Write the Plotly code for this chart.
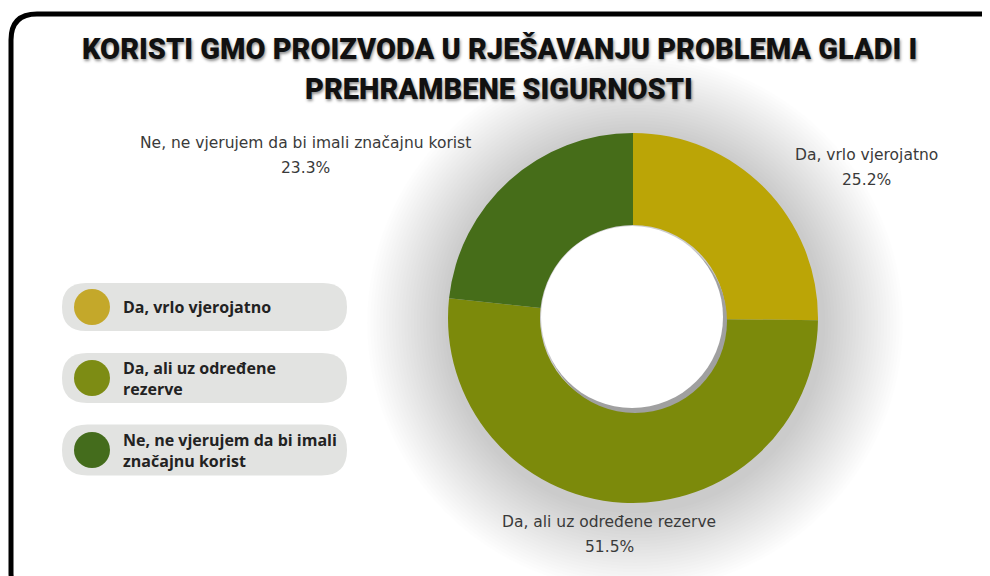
import plotly.graph_objects as go

W, H = 990, 576
OFF = 8  # page body margin

# ── Data ─────────────────────────────────────────────────────────────────────
labels = [
    "Da, vrlo vjerojatno",
    "Da, ali uz određene rezerve",
    "Ne, ne vjerujem da bi imali značajnu korist",
]
legend_labels = [
    "Da, vrlo vjerojatno",
    "Da, ali uz određene<br>rezerve",
    "Ne, ne vjerujem da bi imali<br>značajnu korist",
]
shares = [25.2, 51.5, 23.3]
colors = ["#BBA506", "#7C8A0B", "#466D19"]
legend_colors = ["#C4A82A", "#7D8C14", "#446C1C"]
title_lines = ["KORISTI GMO PROIZVODA U RJEŠAVANJU PROBLEMA GLADI I", "PREHRAMBENE SIGURNOSTI"]


# pixel -> paper helpers
def X(x):
    return (x - OFF) / W


def Y(y):
    return 1 - (y - OFF) / H


def circle(cx, cy, r, **kw):
    return dict(type="circle", xref="paper", yref="paper",
                x0=X(cx - r), x1=X(cx + r), y0=Y(cy + r), y1=Y(cy - r), **kw)


def rounded_rect(x0, y0, x1, y1, r):
    p = [
        (x0 + r, y0), (x1 - r, y0), (x1, y0), (x1, y0 + r),
        (x1, y1 - r), (x1, y1), (x1 - r, y1), (x0 + r, y1),
        (x0, y1), (x0, y1 - r), (x0, y0 + r), (x0, y0), (x0 + r, y0),
    ]
    q = [(X(a), Y(b)) for a, b in p]
    return (f"M{q[0][0]},{q[0][1]} L{q[1][0]},{q[1][1]} Q{q[2][0]},{q[2][1]} {q[3][0]},{q[3][1]} "
            f"L{q[4][0]},{q[4][1]} Q{q[5][0]},{q[5][1]} {q[6][0]},{q[6][1]} L{q[7][0]},{q[7][1]} "
            f"Q{q[8][0]},{q[8][1]} {q[9][0]},{q[9][1]} L{q[10][0]},{q[10][1]} "
            f"Q{q[11][0]},{q[11][1]} {q[12][0]},{q[12][1]} Z")


CX, CY, R = 633, 318, 185
HOLE_R = 93

fig = go.Figure(go.Pie(
    labels=labels, values=shares, hole=HOLE_R / R,
    sort=False, direction="clockwise", rotation=0,
    marker=dict(colors=colors, line=dict(color="white", width=0)),
    textinfo="none", hoverinfo="label+percent", showlegend=False,
    domain=dict(x=[X(CX - R), X(CX + R)], y=[Y(CY + R), Y(CY - R)]),
))

shapes = []
# soft shadow around the donut
for i in range(26):
    shapes.append(circle(CX + 2, CY + 5, 268 - i * 3.1, layer="below", line_width=0,
                         fillcolor="rgba(0,0,0,0.0068)"))
# inner shadow of the hole
shapes.append(circle(CX + 2, CY + 3, HOLE_R - 1, layer="above", line_width=0, fillcolor="#a0a0a0"))
shapes.append(circle(CX - 1, CY - 1, HOLE_R - 2, layer="above", line_width=0, fillcolor="white"))

# frame
shapes.append(dict(type="path", xref="paper", yref="paper", path=rounded_rect(11, 14, 1010, 600, 26),
                   line=dict(color="black", width=5), layer="above"))

# legend pills
pill_y = [307, 378, 450]
pill_h = [48, 50, 51]
for yc, h, c in zip(pill_y, pill_h, legend_colors):
    shapes.append(dict(type="path", xref="paper", yref="paper",
                       path=rounded_rect(62, yc - h / 2, 347, yc + h / 2, h / 2),
                       fillcolor="#E2E3E1", line_width=0, layer="below"))
    shapes.append(circle(92, yc, 18, fillcolor=c, line_width=0, layer="above"))

annotations = []
for yc, t in zip(pill_y, legend_labels):
    annotations.append(dict(x=X(121), y=Y(yc), xref="paper", yref="paper", text=f"<b>{t}</b>",
                            showarrow=False, xanchor="left", yanchor="middle", align="left",
                            font=dict(family="Open Sans", size=16, color="#222222")))

# slice labels
label_pos = [(866, 155), (609, 522), (305, 143)]
for (x, y), name, v in zip(label_pos, labels, shares):
    annotations.append(dict(x=X(x), y=Y(y), xref="paper", yref="paper", text=name,
                            showarrow=False, xanchor="center", yanchor="middle",
                            font=dict(family="DejaVu Sans", size=15.5, color="#3a3a3a")))
    annotations.append(dict(x=X(x), y=Y(y + 25), xref="paper", yref="paper", text=f"{v:.1f}%",
                            showarrow=False, xanchor="center", yanchor="middle",
                            font=dict(family="DejaVu Sans", size=15.5, color="#3a3a3a")))

# title
for i, t in enumerate(title_lines):
    annotations.append(dict(x=X(499), y=Y(49 + i * 40), xref="paper", yref="paper", text=t,
                            showarrow=False, xanchor="center", yanchor="middle",
                            font=dict(family="Roboto", size=29, weight=900,
                                      color="#111111", shadow="1px 2px 3px rgba(0,0,0,0.45)")))

fig.update_layout(
    width=W, height=H,
    margin=dict(l=0, r=0, t=0, b=0),
    paper_bgcolor="white", plot_bgcolor="white",
    shapes=shapes, annotations=annotations,
)

fig.write_html("out.html")
